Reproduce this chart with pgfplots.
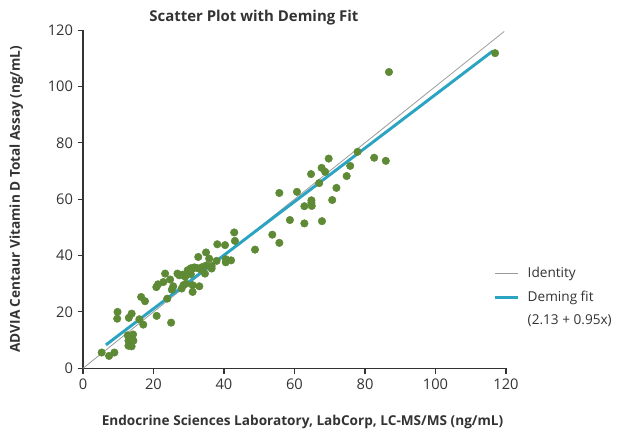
\documentclass[border=0pt]{standalone}
\usepackage{pgfplots}
\pgfplotsset{compat=1.18}
\usepackage{fontspec}
\setmainfont{Open Sans}
\definecolor{dotgreen}{HTML}{5E8A36}
\definecolor{deming}{HTML}{2BA3C2}
\definecolor{txt}{HTML}{333333}
\definecolor{idgray}{HTML}{9A9A9A}
\begin{document}
\begin{tikzpicture}
\begin{axis}[
  width=317pt, height=253.5pt, scale only axis,
  xmin=0, xmax=120, ymin=0, ymax=120,
  xtick={0,20,...,120}, ytick={0,20,...,120},
  axis x line=bottom, axis y line=left,
  axis line style={-, draw=txt, line width=0.8pt},
  tick style={draw=txt, line width=0.8pt},
  tick align=outside, major tick length=4pt,
  /pgf/number format/assume math mode=true,
  every tick label/.style={font=\fontsize{11}{13}\selectfont, text=txt},
  title={Scatter Plot with Deming Fit},
  title style={font=\bfseries\fontsize{11.2}{13}\selectfont, text=txt, at={(axis description cs:0.404,1)}, anchor=south, yshift=-5.5pt},
  xlabel={Endocrine Sciences Laboratory, LabCorp, LC-MS/MS (ng/mL)},
  xlabel style={font=\bfseries\fontsize{10.2}{12}\selectfont, text=txt, at={(axis description cs:0.519,-0.159)}, anchor=center},
  ylabel={ADVIA Centaur Vitamin D Total Assay (ng/mL)},
  ylabel style={font=\bfseries\fontsize{10.2}{12}\selectfont, text=txt, at={(axis description cs:-0.1577,0.5)}, anchor=center},
  legend style={at={(axis description cs:0.96,0.315)}, anchor=north west, draw=none, fill=none,
    font=\fontsize{10.2}{12}\selectfont, text=txt, row sep=4.5pt,
    /tikz/every odd column/.style={column sep=4.5pt}},
  legend cell align=left,
  clip=false,
]
\path (rel axis cs:-0.1962,-0.1953) rectangle (rel axis cs:1.2766,1.0888);
\addplot[idgray, line width=0.6pt] coordinates {(0,0) (119.5,119.5)};
\addlegendentry{Identity}
\addplot[deming, line width=2.2pt] coordinates {(6.5,8.3) (116.3,112.6)};
\addlegendentry{Deming fit}
\addlegendimage{empty legend}
\addlegendentry{(2.13 + 0.95x)}
\addplot[only marks, mark=*, mark size=2.8pt, color=dotgreen, forget plot] coordinates {
(5.3,5.6) (7.4,4.4) (8.9,5.6) (9.8,20) (9.7,17.6) (13.8,19.4) (13,17.9)
(12.7,11.7) (13.9,11) (12.9,9.8) (14.3,9.8) (12.9,8) (13.8,7.8) (13.3,8.9) (14.2,12.0)
(16,17.4) (17.1,15.5) (20.9,18.6) (16.5,25.3) (17.6,23.8) (25,16.2)
(23.9,24.7) (20.8,28.8) (21.3,29.8) (22.8,30.6) (23.3,33.6) (24.7,31.5) (25.6,29.1) (25.2,27.9)
(26.8,33.6) (27.3,33) (28.3,33.2) (29,32.5) (29.7,34.8) (30.6,35.5) (31.6,35.8)
(28.5,29.5) (28,28.3) (29.2,30) (31.1,29.5) (31.1,27.1) (33,29.1) (34.6,33.6) (33.8,35.9)
(36.5,35.4) (36.5,36.3) (32.7,39.5) (34.9,41.1) (35.8,38.9) (37.9,38.1) (40.5,38.7) (42,38.3)
(40.5,37.6) (38.1,44) (40.3,43.7) (42.9,48.2) (43.1,45.2) (48.8,42.1)
(29.9,34.2) (30.6,33.4) (29.2,33) (28.5,33) (32.3,35.6) (31.1,35.4) (33.5,35) (35,36.5)
(53.7,47.4) (55.7,44.5) (55.7,62.2) (58.7,52.6) (60.7,62.6) (62.8,57.5) (62.8,51.4)
(64.7,68.9) (64.8,59.6) (64.8,58.7) (64.9,57.6) (67,65.7) (67.8,52.2) (67.7,71.1) (68.7,69.7)
(69.7,74.4) (70.7,59.7) (71.9,64) (74.8,68.2) (75.8,71.8) (77.9,76.8) (82.6,74.7) (85.9,73.6)
(86.8,105.1) (116.9,111.8)
};
\end{axis}
\end{tikzpicture}
\end{document}
